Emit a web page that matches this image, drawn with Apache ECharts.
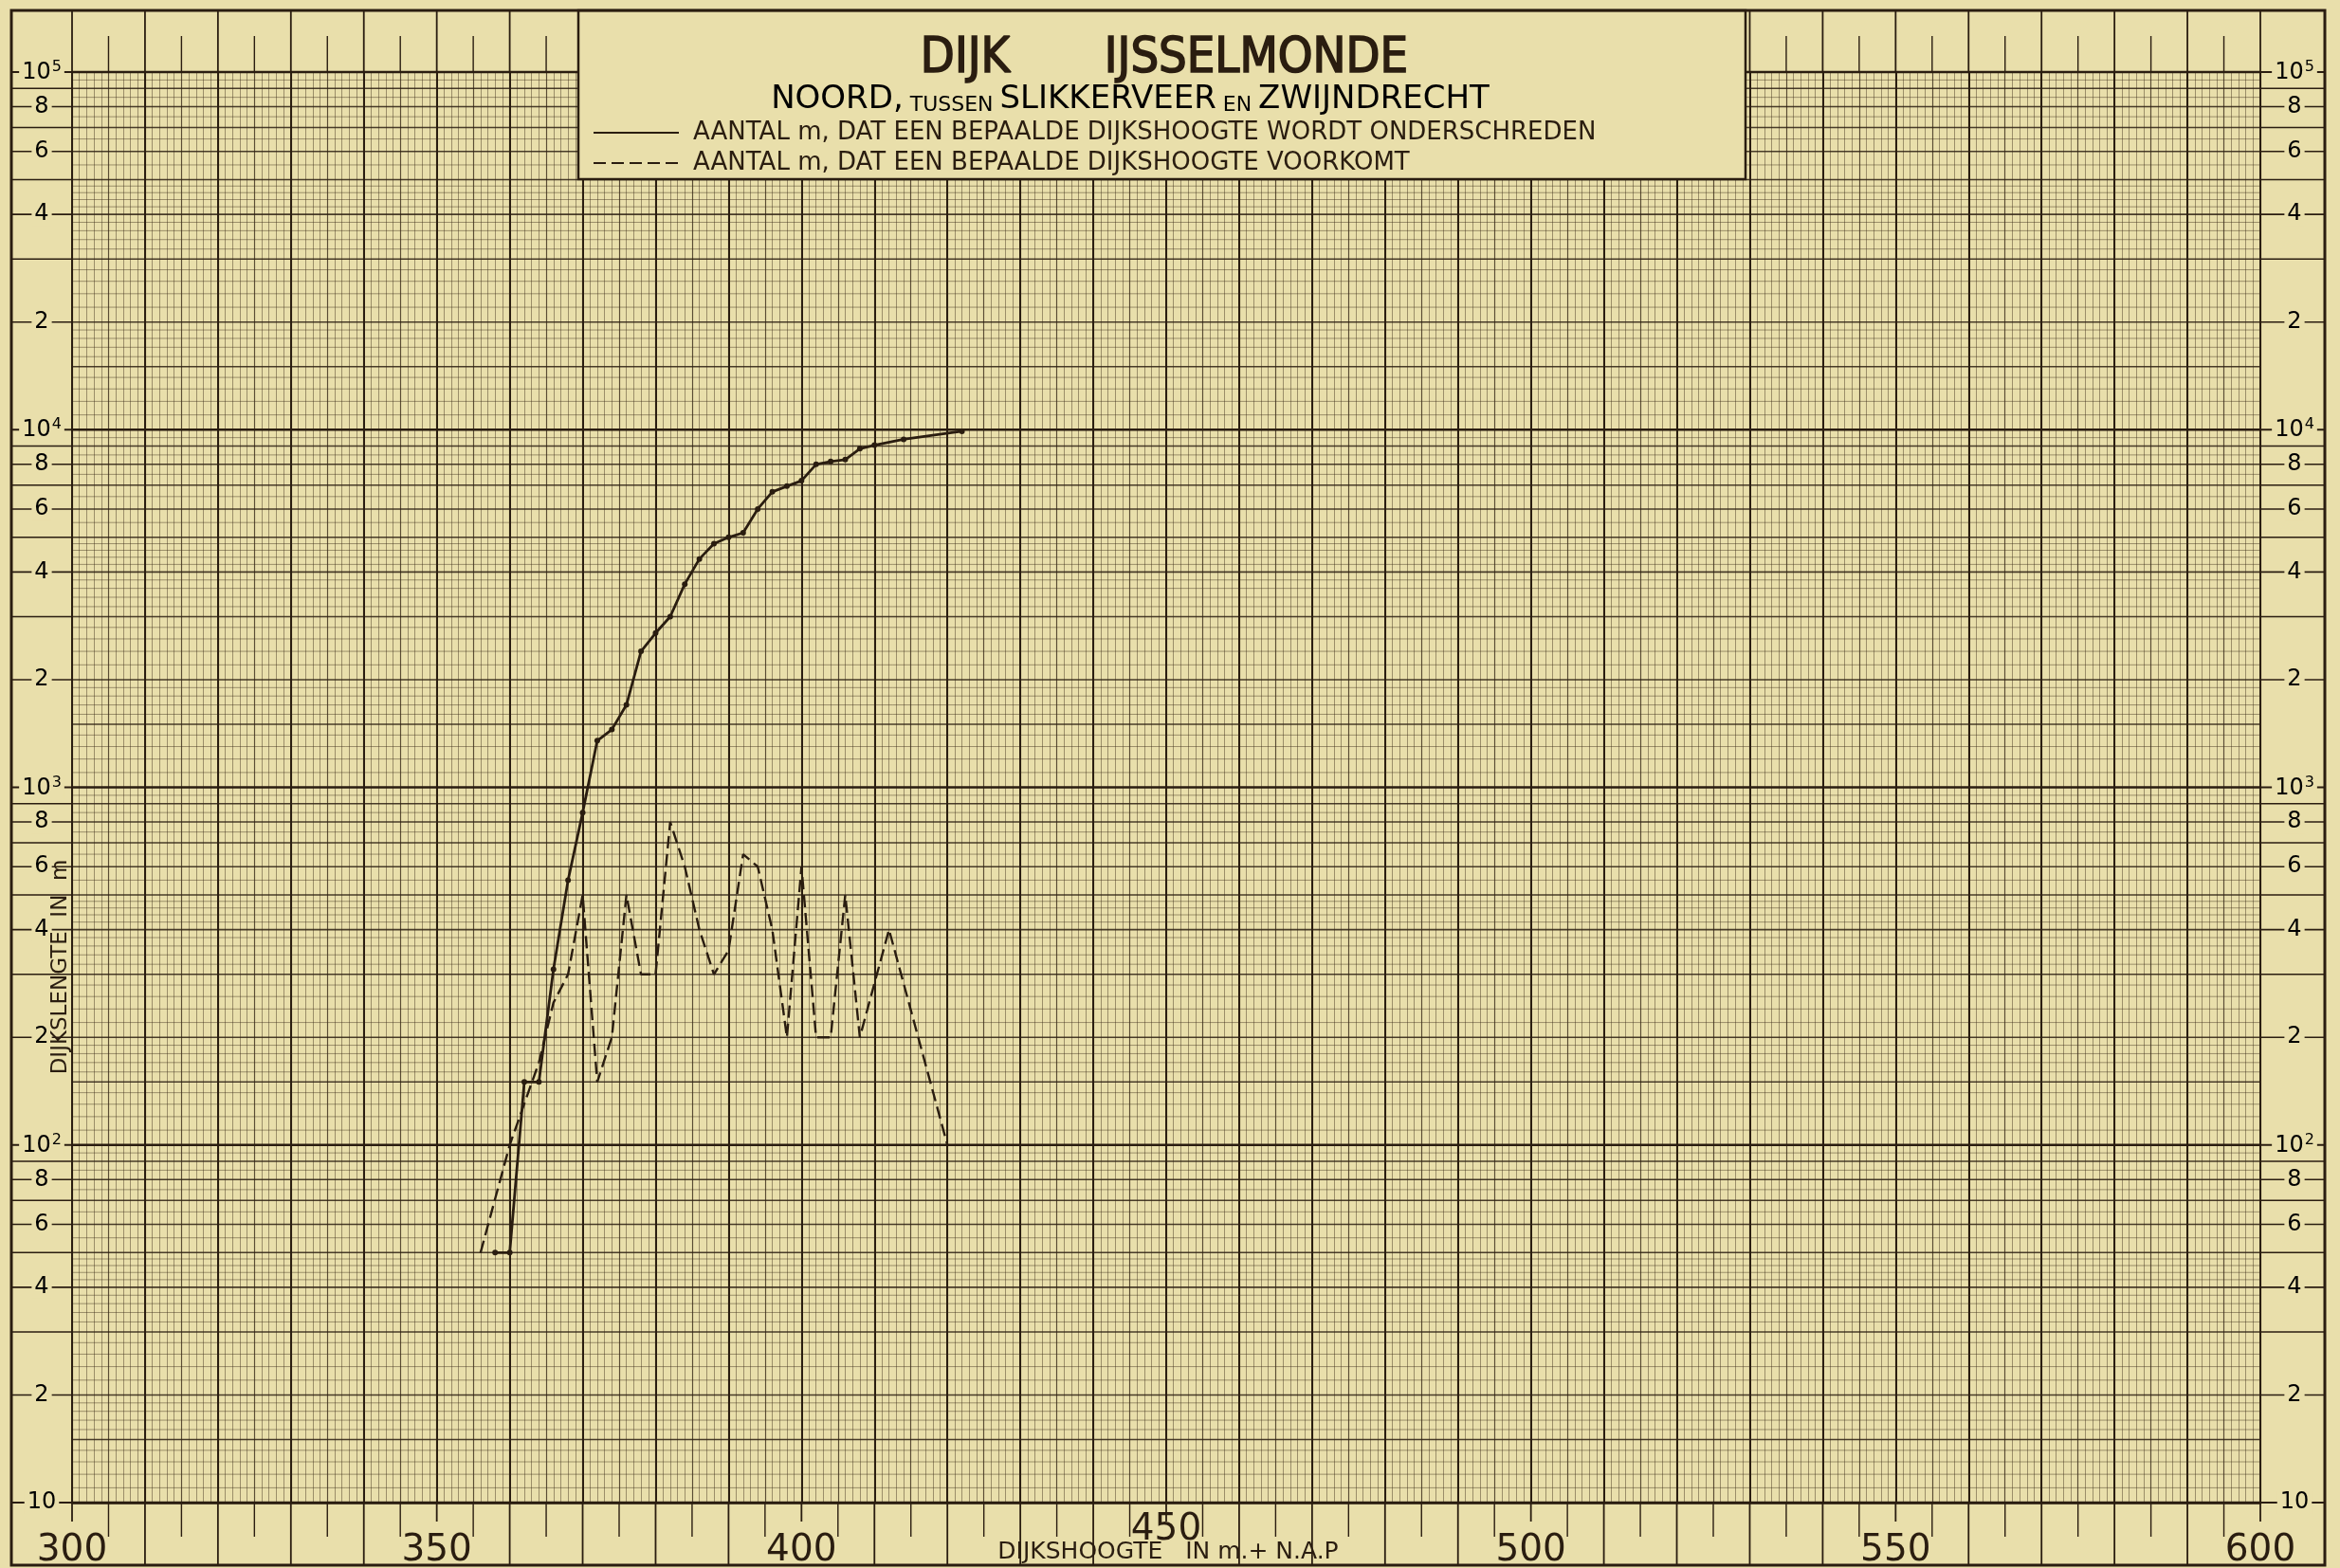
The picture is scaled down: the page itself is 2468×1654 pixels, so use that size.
<!DOCTYPE html>
<html>
<head>
<meta charset="utf-8">
<title>Dijk IJsselmonde</title>
<script src="https://cdn.jsdelivr.net/npm/echarts@6/dist/echarts.min.js"></script>
<style>
  html, body { margin: 0; padding: 0; background: #e9dfab; }
  #chart { width: 2468px; height: 1654px; }
</style>
</head>
<body>
<div id="chart"></div>
<script>
// Dike height (cm + N.A.P.) against length of dike (m), log scale.
// Cumulative: length of dike whose height stays below a given level.
const cumulativeHeights = [358, 360, 362, 364, 366, 368, 370, 372, 374, 376, 378, 380, 382, 384, 386, 388, 390, 392, 394, 396, 398, 400, 402, 404, 406, 408, 410, 414, 422];
const cumulativeLengths = [50, 50, 150, 150, 310, 550, 850, 1350, 1450, 1700, 2400, 2700, 3000, 3700, 4350, 4800, 5000, 5150, 6000, 6700, 6950, 7200, 8000, 8150, 8250, 8850, 9050, 9400, 9900];

// Frequency: length of dike at a given height.
const frequencyHeights = [356, 360, 364, 366, 368, 370, 372, 374, 376, 378, 380, 382, 384, 386, 388, 390, 392, 394, 396, 398, 400, 402, 404, 406, 408, 412, 420];
const frequencyLengths = [50, 100, 170, 250, 300, 500, 150, 200, 500, 300, 300, 800, 600, 400, 300, 350, 650, 600, 400, 200, 600, 200, 200, 500, 200, 400, 100];

const xTickLabels = [300, 350, 400, 450, 500, 550, 600];
const decades = [10, 100, 1000, 10000, 100000];
const sideLabelMultipliers = [2, 4, 6, 8];
const sideLineMultipliers = [3, 5, 7, 9];
const mediumMultipliers = [1.5, 2, 3, 4, 5, 6, 7, 8, 9];

const seriesNames = [
  'AANTAL m, DAT EEN BEPAALDE DIJKSHOOGTE WORDT ONDERSCHREDEN',
  'AANTAL m, DAT EEN BEPAALDE DIJKSHOOGTE VOORKOMT'
];

const X_MIN = 300, X_MAX = 600, Y_MIN = 10, Y_MAX = 100000;
const PAPER = '#e9dfab';
const INK = '#2a1d10';
const FONT = '"DejaVu Sans", "Liberation Sans", sans-serif';
const FONT_TITLE = '"DejaVu Sans Condensed", "Liberation Sans Narrow", "DejaVu Sans", sans-serif';

// Frame of the sheet (pixels)
const FRAME = { left: 12, top: 11, right: 2452, bottom: 1651 };

// ---- log paper rulings ----
function fineMultipliers() {
  const out = [];
  for (let i = 11; i < 20; i++) out.push(i / 10);
  for (let i = 22; i < 50; i += 2) out.push(i / 10);
  for (let i = 55; i < 100; i += 10) out.push(i / 10);
  return out.filter(m => mediumMultipliers.indexOf(m) < 0);
}
const fineRows = [], mediumRows = [];
decades.slice(0, -1).forEach(d => {
  fineMultipliers().forEach(m => fineRows.push(d * m));
  mediumMultipliers.forEach(m => mediumRows.push(d * m));
});

function rowSeries(values, style, z) {
  return {
    type: 'custom', silent: true, clip: false, z: z, animation: false,
    data: values.map(v => [X_MIN, v]),
    encode: { x: 0, y: 1 },
    renderItem: function (params, api) {
      const a = api.coord([X_MIN, api.value(1)]);
      const b = api.coord([X_MAX, api.value(1)]);
      return { type: 'line', shape: { x1: a[0], y1: a[1], x2: b[0], y2: b[1] }, style: Object.assign({}, style) };
    }
  };
}

// side strips: horizontal rulings and value labels left and right of the paper
const sideItems = [];
decades.forEach((d, i) => {
  sideItems.push({ v: d, kind: 'dec', exp: i + 1 });
  if (d < Y_MAX) {
    sideLabelMultipliers.forEach(m => sideItems.push({ v: d * m, kind: 'lab', text: String(m) }));
    sideLineMultipliers.forEach(m => sideItems.push({ v: d * m, kind: 'line' }));
  }
});

function sideLabel(item) {
  if (item.kind === 'dec') {
    return item.exp === 1 ? '{b|10}' : '{b|10}{e|' + item.exp + '}';
  }
  return '{b|' + item.text + '}';
}
const sideRich = {
  b: { fontSize: 24, fontFamily: FONT, color: INK, verticalAlign: 'bottom' },
  e: { fontSize: 16, fontFamily: FONT, color: INK, verticalAlign: 'bottom', padding: [0, 0, 10, 1] }
};

const sideSeries = {
  type: 'custom', silent: true, clip: false, z: 5, animation: false,
  data: sideItems.map(it => [X_MIN, it.v]),
  encode: { x: 0, y: 1 },
  renderItem: function (params, api) {
    const item = sideItems[params.dataIndex];
    const a = api.coord([X_MIN, item.v]);
    const b = api.coord([X_MAX, item.v]);
    const y = a[1];
    const lw = item.kind === 'dec' ? 2.2 : 1.6;
    const children = [
      { type: 'line', shape: { x1: FRAME.left, y1: y, x2: a[0], y2: y }, style: { stroke: INK, lineWidth: lw } },
      { type: 'line', shape: { x1: b[0], y1: y, x2: FRAME.right, y2: y }, style: { stroke: INK, lineWidth: lw } }
    ];
    if (item.kind !== 'line') {
      const txt = sideLabel(item);
      [(FRAME.left + a[0]) / 2, (b[0] + FRAME.right) / 2 + 2].forEach(cx => {
        children.push({
          type: 'text', x: cx, y: y,
          style: {
            text: txt, rich: sideRich, align: 'center', verticalAlign: 'middle',
            backgroundColor: PAPER, padding: [0, 3, 0, 3]
          }
        });
      });
    }
    return { type: 'group', children: children };
  }
};

// top and bottom strips: ticks every 5 cm
const stripTicks = [];
for (let x = X_MIN; x <= X_MAX; x += 5) stripTicks.push(x);
const stripSeries = {
  type: 'custom', silent: true, clip: false, z: 5, animation: false,
  data: stripTicks.map(x => [x, Y_MIN]),
  encode: { x: 0, y: 1 },
  renderItem: function (params, api) {
    const x = stripTicks[params.dataIndex];
    const top = api.coord([x, Y_MAX]);
    const bot = api.coord([x, Y_MIN]);
    const major = x % 10 === 0;
    const labelled = x % 50 === 0;
    const st = { stroke: INK, lineWidth: major ? 1.8 : 1.4 };
    const children = [];
    children.push({ type: 'line', shape: { x1: top[0], y1: major ? FRAME.top : top[1] - 38, x2: top[0], y2: top[1] }, style: st });
    let bottomEnd = major ? FRAME.bottom : bot[1] + 36;
    if (labelled) bottomEnd = bot[1] + 20;
    children.push({ type: 'line', shape: { x1: bot[0], y1: bot[1], x2: bot[0], y2: bottomEnd }, style: st });
    return { type: 'group', children: children };
  }
};

const chart = echarts.init(document.getElementById('chart'), null, { renderer: 'canvas', devicePixelRatio: 1 });

const hiddenAxisParts = { axisLine: { show: false }, axisTick: { show: false }, axisLabel: { show: false } };

const option = {
  backgroundColor: PAPER,
  animation: false,
  grid: { left: 76, right: 84, top: 76, bottom: 69, containLabel: false, outerBoundsMode: 'none' },
  xAxis: [
    {
      type: 'value', min: X_MIN, max: X_MAX, interval: 10,
      axisLine: { show: true, lineStyle: { color: INK, width: 2.6 } },
      axisTick: { show: false },
      axisLabel: {
        show: true, margin: 70, verticalAlign: 'bottom',
        formatter: function (v) {
          if (xTickLabels.indexOf(v) < 0) return '';
          return v === 450 ? '{r|' + v + '}\n{g| }' : '{n|' + v + '}';
        },
        rich: {
          n: { fontSize: 39, fontFamily: FONT, color: INK },
          r: { fontSize: 39, fontFamily: FONT, color: INK },
          g: { fontSize: 10, lineHeight: 22 }
        }
      },
      splitLine: { show: true, lineStyle: { color: INK, width: 2 } },
      z: 4
    },
    Object.assign({ type: 'value', min: X_MIN, max: X_MAX, interval: 1, position: 'bottom',
      splitLine: { show: true, lineStyle: { color: 'rgba(60,44,24,0.45)', width: 1 } } }, hiddenAxisParts),
    Object.assign({ type: 'value', min: X_MIN, max: X_MAX, interval: 5, position: 'bottom',
      splitLine: { show: true, lineStyle: { color: 'rgba(50,36,20,0.62)', width: 1.2 } } }, hiddenAxisParts)
  ],
  yAxis: [
    Object.assign({ type: 'log', logBase: 10, min: Y_MIN, max: Y_MAX, splitLine: { show: false } }, hiddenAxisParts)
  ],
  legend: {
    orient: 'vertical', left: 620, top: 122, z: 60,
    itemWidth: 90, itemHeight: 12, itemGap: 6, selectedMode: false,
    itemStyle: { opacity: 0 },
    textStyle: { fontFamily: FONT, fontSize: 26, lineHeight: 24, color: INK, padding: [0, 0, 0, 10] },
    data: seriesNames
  },
  graphic: [
    { type: 'rect', z: 50, shape: { x: 610, y: FRAME.top, width: 1231, height: 178 },
      style: { fill: PAPER, stroke: INK, lineWidth: 2.5 } },
    { type: 'text', z: 55, x: 1018, y: 62,
      style: { text: 'DIJK', font: '52px ' + FONT_TITLE, fill: INK, stroke: INK, lineWidth: 1.6,
        align: 'center', verticalAlign: 'middle' } },
    { type: 'text', z: 55, x: 1325, y: 62,
      style: { text: 'IJSSELMONDE', font: '52px ' + FONT_TITLE, fill: INK, stroke: INK, lineWidth: 1.6,
        align: 'center', verticalAlign: 'middle' } },
    { type: 'text', z: 55, x: 1192, y: 104,
      style: {
        text: '{b|NOORD,}{s| TUSSEN }{b|SLIKKERVEER}{s| EN }{b|ZWIJNDRECHT}',
        align: 'center', verticalAlign: 'middle',
        rich: {
          b: { fontSize: 34, fontFamily: FONT, color: INK, verticalAlign: 'bottom', lineHeight: 36 },
          s: { fontSize: 22, fontFamily: FONT, color: INK, verticalAlign: 'bottom', lineHeight: 36 }
        }
      } },
    // axis titles
    { type: 'text', z: 55, x: 1232, y: 1637,
      style: { text: 'DIJKSHOOGTE   IN m.+ N.A.P', font: '25px ' + FONT, fill: INK, align: 'center', verticalAlign: 'middle' } },
    { type: 'text', z: 55, x: 64, y: 1020, rotation: Math.PI / 2,
      style: { text: 'DIJKSLENGTE  IN  m', font: '23px ' + FONT, fill: INK, align: 'center', verticalAlign: 'middle' } },
    { type: 'rect', z: 70, shape: { x: FRAME.left, y: FRAME.top, width: FRAME.right - FRAME.left, height: FRAME.bottom - FRAME.top },
      style: { fill: 'none', stroke: INK, lineWidth: 3 } }
  ],
  series: [
    rowSeries(fineRows, { stroke: 'rgba(60,44,24,0.45)', lineWidth: 1 }, 1),
    rowSeries(mediumRows, { stroke: 'rgba(45,32,18,0.85)', lineWidth: 1.6 }, 1),
    rowSeries(decades, { stroke: INK, lineWidth: 2.4 }, 1),
    sideSeries,
    stripSeries,
    {
      name: seriesNames[0], type: 'line', z: 10,
      data: cumulativeHeights.map((h, i) => [h, cumulativeLengths[i]]),
      symbol: 'circle', symbolSize: 6, showAllSymbol: true,
      lineStyle: { color: INK, width: 2.8 },
      itemStyle: { color: INK }
    },
    {
      name: seriesNames[1], type: 'line', z: 9,
      data: frequencyHeights.map((h, i) => [h, frequencyLengths[i]]),
      symbol: 'none',
      lineStyle: { color: INK, width: 2.4, type: [13, 6] },
      itemStyle: { color: INK }
    }
  ]
};

chart.setOption(option);
</script>
</body>
</html>
